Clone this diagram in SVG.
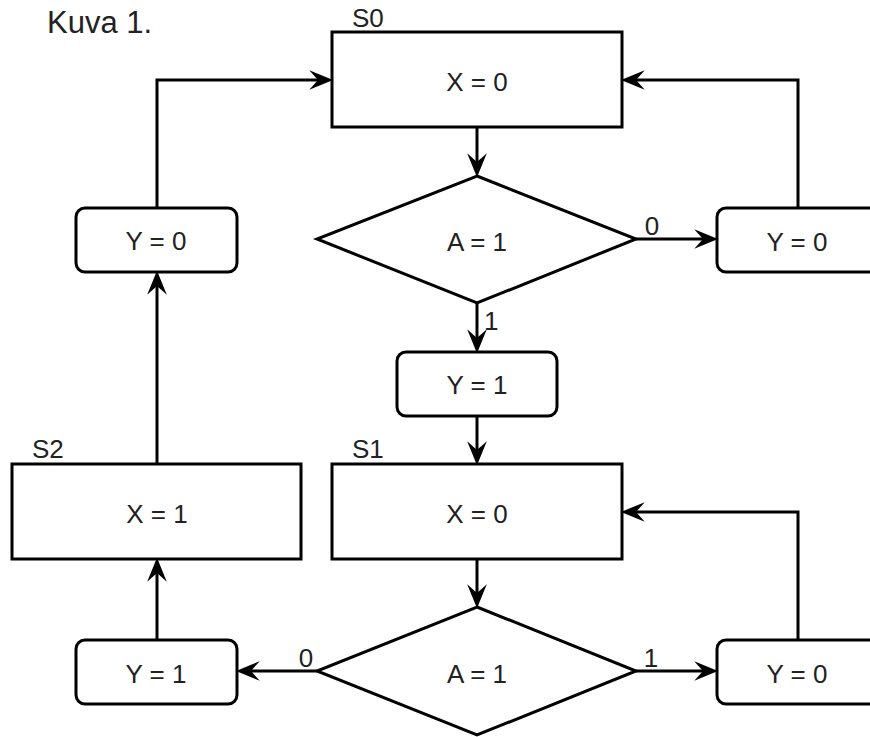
<svg xmlns="http://www.w3.org/2000/svg" width="870" height="737" viewBox="0 0 870 737">
<style>
  .shape { fill: #ffffff; stroke: #000000; stroke-width: 3; }
  .conn { fill: none; stroke: #000000; stroke-width: 3; }
  text { font-family: "Liberation Sans", Arial, sans-serif; font-size: 26px; fill: #222222; }
  .mid { text-anchor: middle; }
  .title { font-size: 31px; }
</style>
<defs>
  <marker id="arrow" markerUnits="userSpaceOnUse" markerWidth="24" markerHeight="20" viewBox="0 0 22 18" refX="8" refY="9" orient="auto">
    <path d="M22,9 L0,0 L8,9 L0,18 Z" fill="#000000"/>
  </marker>
</defs>
<rect width="870" height="737" fill="#ffffff"/>
<text class="title" x="47" y="33">Kuva 1.</text>

<g id="connectors">
  <path class="conn" d="M157,208 V80 H318" marker-end="url(#arrow)"/>
  <path class="conn" d="M798,208 V80 H636" marker-end="url(#arrow)"/>
  <path class="conn" d="M477,127 V162" marker-end="url(#arrow)"/>
  <path class="conn" d="M636,239 H703" marker-end="url(#arrow)"/>
  <text class="mid" x="652" y="235">0</text>
  <path class="conn" d="M477,303 V338" marker-end="url(#arrow)"/>
  <text x="484" y="330">1</text>
  <path class="conn" d="M477,416 V450" marker-end="url(#arrow)"/>
  <path class="conn" d="M477,559 V593" marker-end="url(#arrow)"/>
  <path class="conn" d="M317,671 H251" marker-end="url(#arrow)"/>
  <text class="mid" x="306" y="667">0</text>
  <path class="conn" d="M636,671 H703" marker-end="url(#arrow)"/>
  <text class="mid" x="651" y="667">1</text>
  <path class="conn" d="M798,640 V512 H636" marker-end="url(#arrow)"/>
  <path class="conn" d="M157,640 V573" marker-end="url(#arrow)"/>
  <path class="conn" d="M157,464 V286" marker-end="url(#arrow)"/>
</g>

<g id="S0">
  <rect class="shape" x="332" y="32" width="290" height="95"/>
  <text x="352" y="27">S0</text>
  <text class="mid" x="477" y="91">X = 0</text>
</g>
<g id="decision1">
  <polygon class="shape" points="477,176 636,239 477,303 317,239"/>
  <text class="mid" x="477" y="251">A = 1</text>
</g>
<g id="y0-left-top">
  <rect class="shape" x="76" y="208" width="161" height="64" rx="9"/>
  <text class="mid" x="156" y="250">Y = 0</text>
</g>
<g id="y0-right-top">
  <rect class="shape" x="717" y="208" width="161" height="64" rx="9"/>
  <text class="mid" x="797" y="251">Y = 0</text>
</g>
<g id="y1-mid">
  <rect class="shape" x="397" y="352" width="160" height="64" rx="9"/>
  <text class="mid" x="477" y="394">Y = 1</text>
</g>
<g id="S1">
  <rect class="shape" x="332" y="464" width="290" height="95"/>
  <text x="352" y="458">S1</text>
  <text class="mid" x="477" y="523">X = 0</text>
</g>
<g id="S2">
  <rect class="shape" x="12" y="464" width="289" height="95"/>
  <text x="32" y="458">S2</text>
  <text class="mid" x="157" y="523">X = 1</text>
</g>
<g id="decision2">
  <polygon class="shape" points="477,607 636,671 477,735 317,671"/>
  <text class="mid" x="477" y="683">A = 1</text>
</g>
<g id="y1-left-bottom">
  <rect class="shape" x="76" y="640" width="161" height="64" rx="9"/>
  <text class="mid" x="156" y="683">Y = 1</text>
</g>
<g id="y0-right-bottom">
  <rect class="shape" x="717" y="640" width="161" height="64" rx="9"/>
  <text class="mid" x="797" y="683">Y = 0</text>
</g>
</svg>
